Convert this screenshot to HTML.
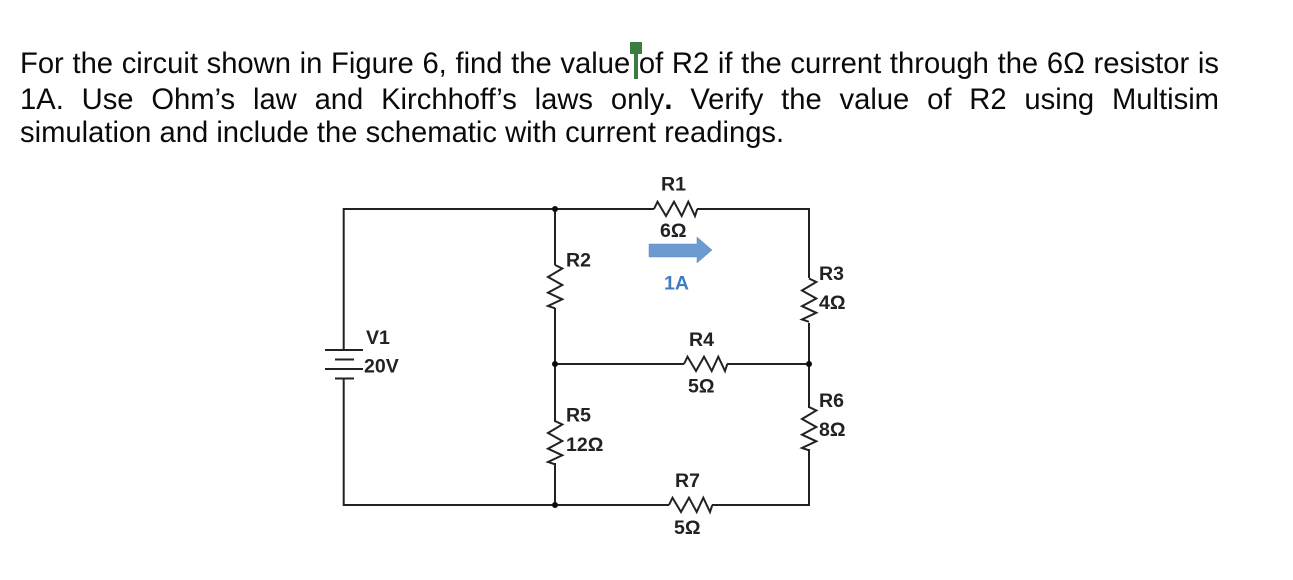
<!DOCTYPE html>
<html lang="en">
<head>
<meta charset="utf-8">
<title>Figure 6 circuit</title>
<style>
html,body{margin:0;padding:0;background:#fff;}
body{position:relative;width:1293px;height:580px;overflow:hidden;font-family:"Liberation Sans",sans-serif;color:#0a0a0a;}
.l{position:absolute;left:20px;width:1199px;font-size:29.2px;line-height:30px;white-space:nowrap;text-align:justify;text-align-last:justify;font-variant-ligatures:none;}
.s{text-align:left;text-align-last:left;white-space:nowrap;}
svg{position:absolute;left:0;top:0;}
svg text{font-family:"Liberation Sans",sans-serif;font-weight:bold;font-size:19.5px;fill:#222;}
</style>
</head>
<body>
<svg width="1293" height="580" viewBox="0 0 1293 580">
<defs>
<filter id="b" x="-5%" y="-5%" width="110%" height="110%"><feGaussianBlur stdDeviation="0.35"/></filter>
<polyline id="z" points="0,0 3.5,-7.3 12,7 20,-7.3 27.7,7 34.3,-7.3 41,7 43.3,0" fill="none" stroke="#222" stroke-width="2"/>
</defs>
<g filter="url(#b)">
<g fill="none" stroke="#222" stroke-width="2">
<path d="M343.7 350V209H654"/>
<path d="M697 209H809V278"/>
<path d="M809 323V408"/>
<path d="M809 449V505H712"/>
<path d="M669 505H343.7V379"/>
<path d="M555 209V265"/>
<path d="M555 308V422"/>
<path d="M555 463V505"/>
<path d="M555 364H684"/>
<path d="M727 364H809"/>
<path d="M325 350H363M335 359.5H354M325 369H363M335 378.5H354"/>
</g>
<use href="#z" transform="translate(654,209)"/>
<use href="#z" transform="translate(684,364)"/>
<use href="#z" transform="translate(669,505)"/>
<use href="#z" transform="translate(555,265)rotate(90)"/>
<use href="#z" transform="translate(809,278.5)rotate(90)"/>
<use href="#z" transform="translate(555,421)rotate(90)"/>
<use href="#z" transform="translate(809,407)rotate(90)"/>
<g fill="#111">
<circle cx="555" cy="209" r="3"/>
<circle cx="555" cy="364" r="3"/>
<circle cx="809" cy="364" r="3"/>
<circle cx="555" cy="505" r="3"/>
</g>
<polygon points="649,244 697,244 697,237 712,250 697,263 697,257 649,257" fill="#6c9bd0" stroke="#5b8cc4" stroke-width="0.5"/>
<text x="661" y="190.5">R1</text>
<text x="660" y="237">6Ω</text>
<text x="664" y="289.5" style="fill:#3f7cc0">1A</text>
<text x="566" y="266.5">R2</text>
<text x="819" y="280">R3</text>
<text x="819" y="309">4Ω</text>
<text x="689" y="346">R4</text>
<text x="688" y="392.5">5Ω</text>
<text x="366" y="344">V1</text>
<text x="364" y="372.5">20V</text>
<text x="566" y="421.5">R5</text>
<text x="566" y="451">12Ω</text>
<text x="819" y="407">R6</text>
<text x="819" y="436">8Ω</text>
<text x="675" y="487">R7</text>
<text x="674" y="534">5Ω</text>
</g>
<path d="M630 42H642V54H638V79H634V54H630Z" fill="#3a7d44"/>
</svg>
<div class="l" style="top:49px">For the circuit shown in Figure 6, find the value of R2 if the current through the 6Ω resistor is</div>
<div class="l" style="top:85px">1A. Use Ohm’s law and Kirchhoff’s laws only<b>.</b> Verify the value of R2 using Multisim</div>
<div class="l s" style="top:118px">simulation and include the schematic with current readings.</div>
</body>
</html>
